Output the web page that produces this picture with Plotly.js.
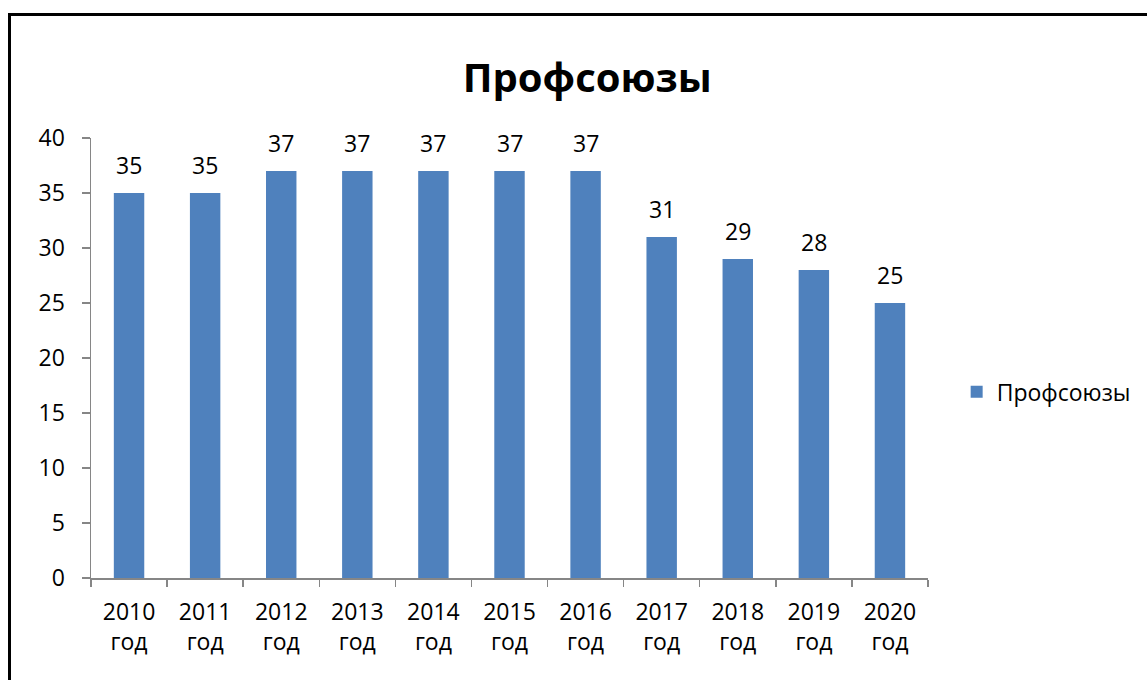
<!DOCTYPE html>
<html>
<head>
<meta charset="utf-8">
<script src="https://cdn.plot.ly/plotly-3.0.1.min.js"></script>
<style>
html,body{margin:0;padding:0;background:#fff;}
#wrap{position:relative;width:1147px;height:680px;overflow:hidden;}
#chart{width:1147px;height:680px;}
#frame{position:absolute;left:8px;top:13px;width:1200px;height:800px;border-left:3px solid #000;border-top:3px solid #000;pointer-events:none;}
</style>
</head>
<body>
<div id="wrap"><div id="chart"></div><div id="frame"></div></div>
<script>
var categories = ["2010<br>год","2011<br>год","2012<br>год","2013<br>год","2014<br>год","2015<br>год","2016<br>год","2017<br>год","2018<br>год","2019<br>год","2020<br>год"];
var values = [35, 35, 37, 37, 37, 37, 37, 31, 29, 28, 25];
var seriesName = "Профсоюзы";
var yTicks = [0, 5, 10, 15, 20, 25, 30, 35, 40];

var font = "Open Sans, Noto Sans, sans-serif";
var trace = {
  type: "bar",
  x: categories,
  y: values,
  name: seriesName,
  marker: {color: "#4F81BD"},
  showlegend: true
};
var labels = categories.map(function (c, i) {
  return {
    x: c, y: values[i], xref: "x", yref: "y",
    text: String(values[i]), showarrow: false,
    yanchor: "bottom", yshift: 10,
    font: {family: font, size: 23, color: "#000"}
  };
});
var layout = {
  width: 1147, height: 680,
  margin: {l: 91, r: 218, t: 138, b: 102},
  paper_bgcolor: "#fff", plot_bgcolor: "#fff",
  title: {text: "<b>Профсоюзы</b>", font: {family: font, size: 40, color: "#000"}, x: 0.512, xref: "container", xanchor: "center", y: 0.885, yanchor: "middle"},
  bargap: 0.6,
  showlegend: true,
  legend: {x: 1.033, xanchor: "left", y: 0.423, yanchor: "middle", font: {family: font, size: 23, color: "#000"}, itemwidth: 30},
  annotations: labels,
  xaxis: {
    type: "category",
    showline: true, linecolor: "#868686", linewidth: 1.5,
    ticks: "outside", tickson: "boundaries", ticklen: 7, tickcolor: "#868686", tickwidth: 1.5,
    ticklabelstandoff: 13,
    tickfont: {family: font, size: 23, color: "#000"},
    showgrid: false, zeroline: false
  },
  yaxis: {
    range: [0, 40], tickvals: yTicks, ticktext: yTicks.map(String),
    showline: true, linecolor: "#868686", linewidth: 1.5,
    ticks: "outside", ticklen: 8, tickcolor: "#868686", tickwidth: 1.5,
    ticklabelstandoff: 12,
    tickfont: {family: font, size: 23, color: "#000"},
    showgrid: false, zeroline: false
  }
};
Plotly.newPlot("chart", [trace], layout, {displayModeBar: false, staticPlot: true});
</script>
</body>
</html>
